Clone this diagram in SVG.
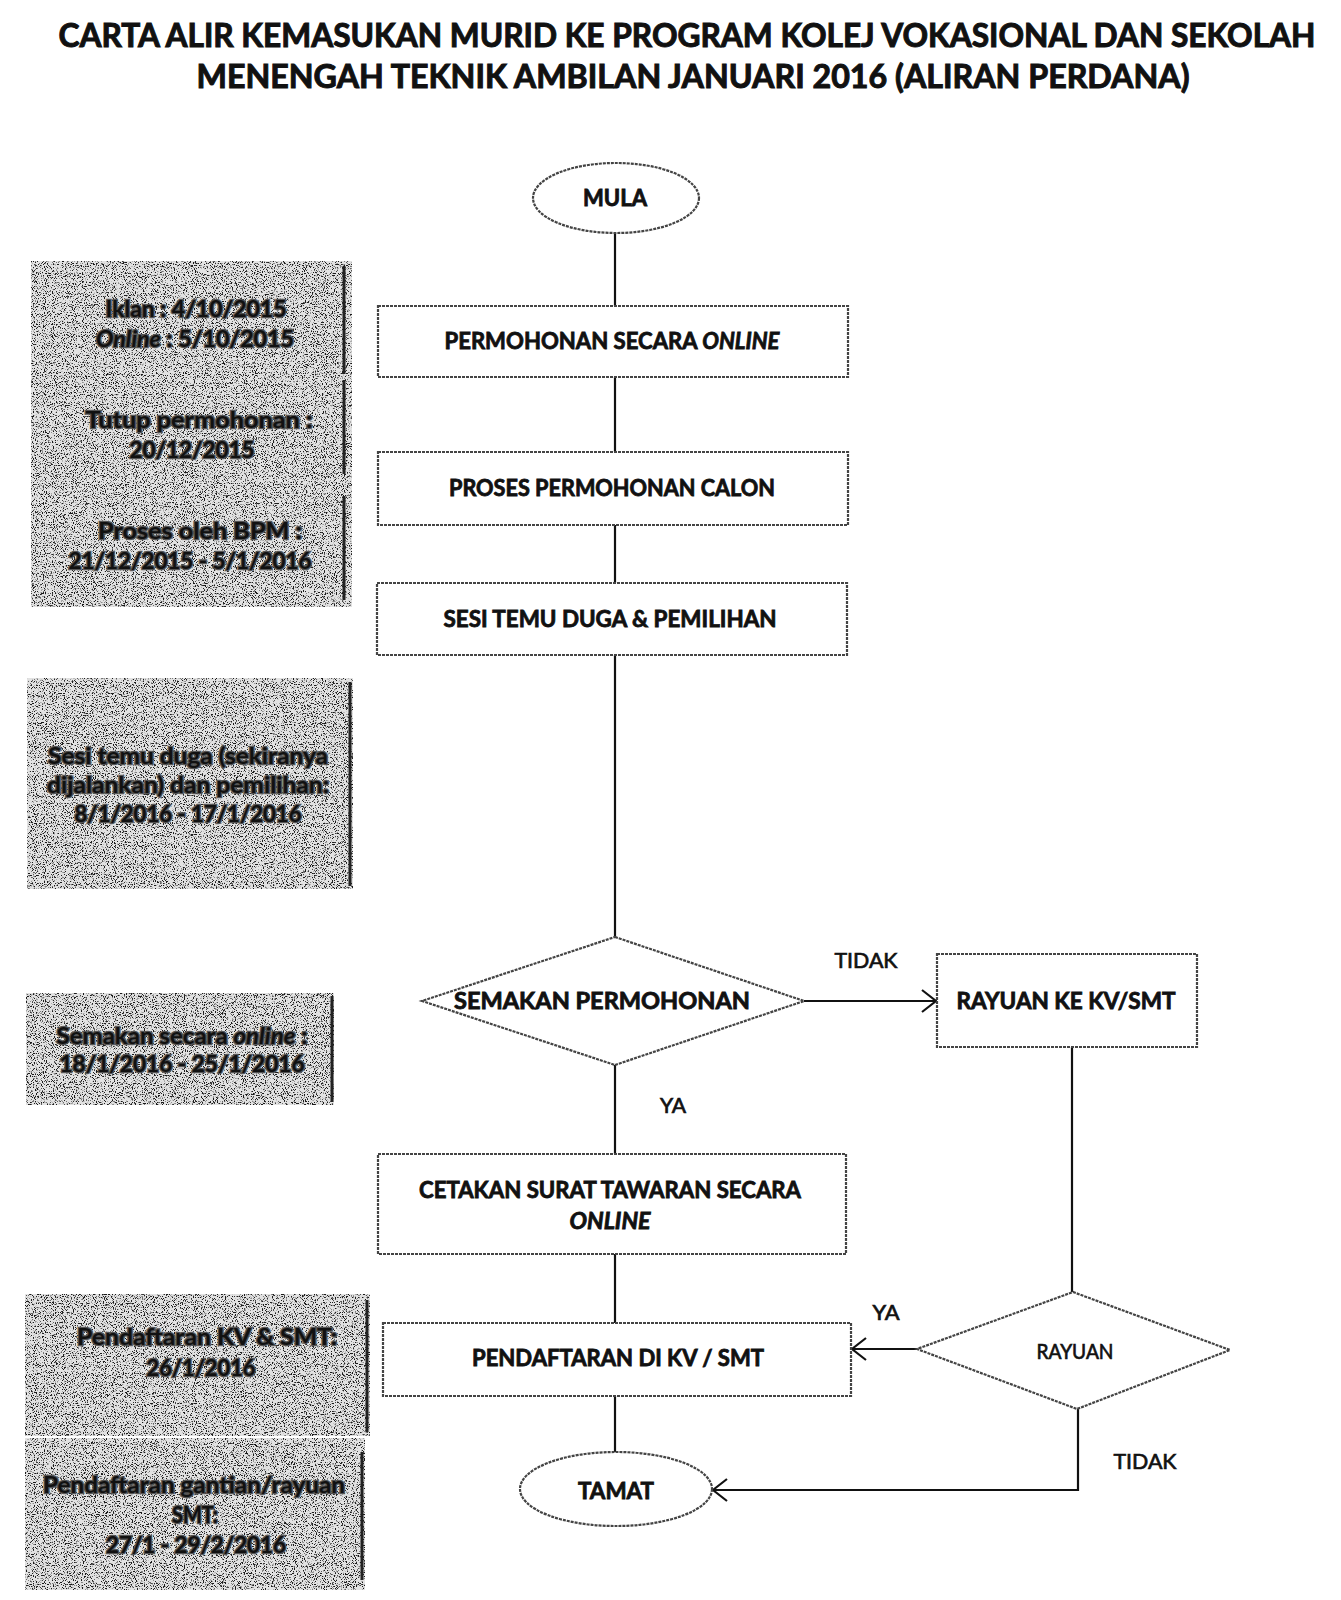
<svg xmlns="http://www.w3.org/2000/svg" width="1341" height="1600" viewBox="0 0 1341 1600">
<style>
  text { font-family: "Lato", "Liberation Sans", sans-serif; fill: #111; }
  .title { font-size: 32px; font-weight: bold; text-anchor: middle; stroke: #111; stroke-width: 1px; }
  .node { font-size: 22px; font-weight: bold; text-anchor: middle; stroke: #111; stroke-width: 0.8px; }
  .lbl { font-size: 22px; font-weight: normal; text-anchor: middle; stroke: #111; stroke-width: 0.7px; }
  .side { font-size: 23px; font-weight: bold; text-anchor: middle; stroke: #555; stroke-width: 2.6px; paint-order: stroke; }
  .it { font-style: italic; }
  .shape { fill: #fff; stroke: #444; stroke-width: 2.2; stroke-dasharray: 3 1; }
  .sidebox { fill: #e2e2e2; filter: url(#grain); }
  .edge { stroke: #222; stroke-width: 3; }
  .conn { fill: none; stroke: #111; stroke-width: 2.2; }
</style>
<defs>
  <filter id="grain" x="0" y="0" width="1" height="1" color-interpolation-filters="sRGB">
    <feTurbulence type="fractalNoise" baseFrequency="0.9" numOctaves="2" seed="7" result="noise"/>
    <feColorMatrix in="noise" type="matrix" values="0 0 0 0 0.1  0 0 0 0 0.1  0 0 0 0 0.1  8 0 0 0 -4.3" result="dots"/>
    <feComposite in="dots" in2="SourceAlpha" operator="in" result="cd"/>
    <feMerge><feMergeNode in="SourceGraphic"/><feMergeNode in="cd"/></feMerge>
  </filter>
  <marker id="arr" markerUnits="userSpaceOnUse" markerWidth="18" markerHeight="26" refX="15" refY="12" orient="auto">
    <path d="M1,1 L15,12 L1,23" fill="none" stroke="#111" stroke-width="2.2"/>
  </marker>
</defs>
<rect width="1341" height="1600" fill="#fff"/>

<g id="title">
  <text class="title" x="687" y="47" textLength="1257" lengthAdjust="spacingAndGlyphs">CARTA ALIR KEMASUKAN MURID KE PROGRAM KOLEJ VOKASIONAL DAN SEKOLAH</text>
  <text class="title" x="693" y="88" textLength="993" lengthAdjust="spacingAndGlyphs">MENENGAH TEKNIK AMBILAN JANUARI 2016 (ALIRAN PERDANA)</text>
</g>

<g id="connectors">
  <line class="conn" x1="615" y1="233" x2="615" y2="306"/>
  <line class="conn" x1="615" y1="377" x2="615" y2="452"/>
  <line class="conn" x1="615" y1="525" x2="615" y2="583"/>
  <line class="conn" x1="615" y1="655" x2="615" y2="937"/>
  <line class="conn" x1="615" y1="1065" x2="615" y2="1154"/>
  <line class="conn" x1="615" y1="1254" x2="615" y2="1323"/>
  <line class="conn" x1="615" y1="1396" x2="615" y2="1452"/>
  <line class="conn" x1="804" y1="1001" x2="936" y2="1001" marker-end="url(#arr)"/>
  <line class="conn" x1="1072" y1="1047" x2="1072" y2="1292"/>
  <line class="conn" x1="917" y1="1349" x2="852" y2="1349" marker-end="url(#arr)"/>
  <polyline class="conn" points="1078,1409 1078,1490 713,1490" marker-end="url(#arr)"/>
  <text class="lbl" x="866" y="968" textLength="63" lengthAdjust="spacingAndGlyphs">TIDAK</text>
  <text class="lbl" x="673" y="1113" textLength="26" lengthAdjust="spacingAndGlyphs">YA</text>
  <text class="lbl" x="886" y="1320" textLength="27" lengthAdjust="spacingAndGlyphs">YA</text>
  <text class="lbl" x="1145" y="1469" textLength="63" lengthAdjust="spacingAndGlyphs">TIDAK</text>
</g>

<g id="side-iklan">
  <rect class="sidebox" x="31" y="261" width="321" height="116"/>
  <line class="edge" x1="344" y1="266" x2="344" y2="374" stroke="#777"/>
  <text class="side" x="196" y="317" textLength="181" lengthAdjust="spacingAndGlyphs">Iklan : 4/10/2015</text>
  <text class="side" x="195" y="347" textLength="198" lengthAdjust="spacingAndGlyphs"><tspan class="it">Online</tspan> : 5/10/2015</text>
</g>
<g id="side-tutup">
  <rect class="sidebox" x="31" y="377" width="321" height="111"/>
  <line class="edge" x1="344" y1="380" x2="344" y2="474"/>
  <text class="side" x="199" y="428" textLength="227" lengthAdjust="spacingAndGlyphs">Tutup permohonan :</text>
  <text class="side" x="192" y="458" textLength="125" lengthAdjust="spacingAndGlyphs">20/12/2015</text>
</g>
<g id="side-proses">
  <rect class="sidebox" x="31" y="488" width="321" height="119"/>
  <line class="edge" x1="344" y1="496" x2="344" y2="600"/>
  <text class="side" x="200" y="539" textLength="204" lengthAdjust="spacingAndGlyphs">Proses oleh BPM :</text>
  <text class="side" x="190" y="569" textLength="243" lengthAdjust="spacingAndGlyphs">21/12/2015 - 5/1/2016</text>
</g>
<g id="side-sesi">
  <rect class="sidebox" x="27" y="678" width="326" height="211"/>
  <line class="edge" x1="350" y1="682" x2="350" y2="886"/>
  <text class="side" x="188" y="764" textLength="280" lengthAdjust="spacingAndGlyphs">Sesi temu duga (sekiranya</text>
  <text class="side" x="188" y="793" textLength="282" lengthAdjust="spacingAndGlyphs">dijalankan) dan pemilihan:</text>
  <text class="side" x="188" y="822" textLength="227" lengthAdjust="spacingAndGlyphs">8/1/2016 - 17/1/2016</text>
</g>
<g id="side-semakan">
  <rect class="sidebox" x="26" y="993" width="308" height="112"/>
  <line class="edge" x1="332" y1="996" x2="332" y2="1102"/>
  <text class="side" x="182" y="1044" textLength="251" lengthAdjust="spacingAndGlyphs">Semakan secara <tspan class="it">online</tspan> :</text>
  <text class="side" x="182" y="1072" textLength="245" lengthAdjust="spacingAndGlyphs">18/1/2016 - 25/1/2016</text>
</g>
<g id="side-daftar">
  <rect class="sidebox" x="25" y="1294" width="345" height="142"/>
  <line class="edge" x1="367" y1="1300" x2="367" y2="1432"/>
  <text class="side" x="207" y="1345" textLength="260" lengthAdjust="spacingAndGlyphs">Pendaftaran KV &amp; SMT:</text>
  <text class="side" x="201" y="1376" textLength="109" lengthAdjust="spacingAndGlyphs">26/1/2016</text>
</g>
<g id="side-gantian">
  <rect class="sidebox" x="25" y="1438" width="340" height="152"/>
  <line class="edge" x1="362" y1="1452" x2="362" y2="1580"/>
  <text class="side" x="194" y="1493" textLength="302" lengthAdjust="spacingAndGlyphs">Pendaftaran  gantian/rayuan</text>
  <text class="side" x="195" y="1523" textLength="46" lengthAdjust="spacingAndGlyphs">SMT:</text>
  <text class="side" x="196" y="1553" textLength="180" lengthAdjust="spacingAndGlyphs">27/1 - 29/2/2016</text>
</g>

<g id="mula">
  <ellipse class="shape" cx="616" cy="198" rx="83" ry="35"/>
  <text class="node" x="615" y="206" textLength="64" lengthAdjust="spacingAndGlyphs">MULA</text>
</g>
<g id="permohonan">
  <rect class="shape" x="378" y="306" width="470" height="71"/>
  <text class="node" x="612" y="349" textLength="335" lengthAdjust="spacingAndGlyphs">PERMOHONAN SECARA <tspan class="it">ONLINE</tspan></text>
</g>
<g id="proses">
  <rect class="shape" x="378" y="452" width="470" height="73"/>
  <text class="node" x="612" y="496" textLength="326" lengthAdjust="spacingAndGlyphs">PROSES PERMOHONAN CALON</text>
</g>
<g id="sesi">
  <rect class="shape" x="377" y="583" width="470" height="72"/>
  <text class="node" x="610" y="627" textLength="333" lengthAdjust="spacingAndGlyphs">SESI TEMU DUGA &amp; PEMILIHAN</text>
</g>
<g id="semakan">
  <polygon class="shape" points="615,937 804,1001 615,1065 422,1001"/>
  <text class="node" x="602" y="1009" textLength="296" lengthAdjust="spacingAndGlyphs">SEMAKAN PERMOHONAN</text>
</g>
<g id="rayuan-kv">
  <rect class="shape" x="937" y="954" width="260" height="93"/>
  <text class="node" x="1066" y="1009" textLength="219" lengthAdjust="spacingAndGlyphs">RAYUAN KE KV/SMT</text>
</g>
<g id="cetakan">
  <rect class="shape" x="378" y="1154" width="468" height="100"/>
  <text class="node" x="610" y="1198" textLength="382" lengthAdjust="spacingAndGlyphs">CETAKAN SURAT TAWARAN SECARA</text>
  <text class="node it" x="610" y="1229" textLength="81" lengthAdjust="spacingAndGlyphs">ONLINE</text>
</g>
<g id="pendaftaran">
  <rect class="shape" x="383" y="1323" width="468" height="73"/>
  <text class="node" x="618" y="1366" textLength="292" lengthAdjust="spacingAndGlyphs">PENDAFTARAN DI KV / SMT</text>
</g>
<g id="rayuan">
  <polygon class="shape" points="1073,1292 1230,1350 1077,1409 917,1349"/>
  <text class="lbl" x="1075" y="1359" textLength="77" lengthAdjust="spacingAndGlyphs">RAYUAN</text>
</g>
<g id="tamat">
  <ellipse class="shape" cx="616" cy="1489" rx="96" ry="37"/>
  <text class="node" x="616" y="1499" textLength="76" lengthAdjust="spacingAndGlyphs">TAMAT</text>
</g>
</svg>
